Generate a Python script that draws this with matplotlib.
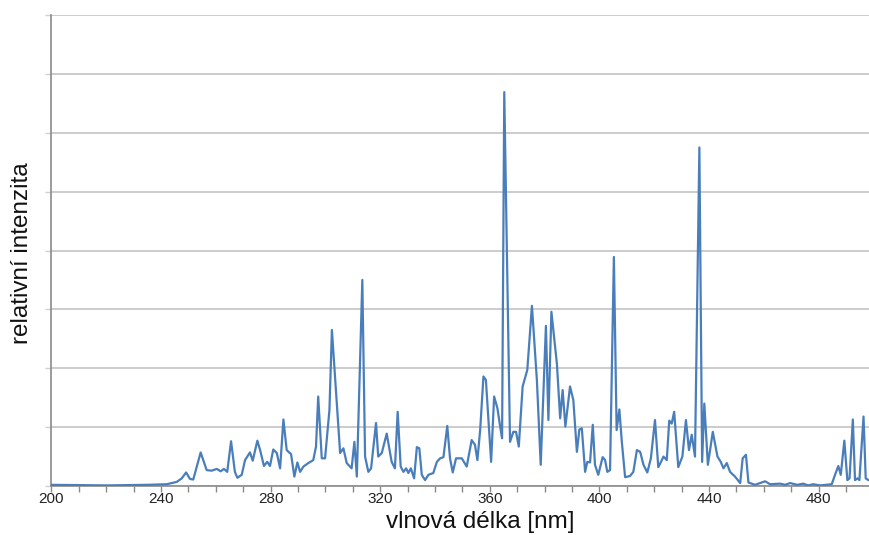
import matplotlib
matplotlib.use("Agg")
import matplotlib.pyplot as plt
from matplotlib.ticker import MultipleLocator, NullFormatter

plt.rcParams['font.family'] = ['Liberation Sans', 'DejaVu Sans']

# emission spectrum (wavelength in nm, relative intensity)
wavelength = [
    200.0, 220.0, 235.0, 242.1, 245.8, 247.6, 249.2, 250.6, 251.8, 254.5,
    256.7, 258.5, 260.4, 261.8, 263.0, 264.2, 265.6, 267.0, 267.9, 269.5,
    270.7, 272.5, 273.5, 275.2, 276.2, 277.6, 278.8, 279.8, 281.0, 282.3,
    283.5, 284.7, 285.9, 287.5, 288.7, 289.8, 290.8, 292.0, 293.8, 295.6,
    296.6, 297.4, 298.7, 299.9, 301.5, 302.4, 304.2, 305.4, 306.6, 307.8,
    309.0, 309.6, 310.6, 311.5, 313.5, 314.5, 315.7, 316.7, 318.5, 319.3,
    320.6, 322.4, 324.2, 325.4, 326.4, 327.5, 328.5, 329.5, 330.3, 331.2,
    332.4, 333.4, 334.3, 335.2, 336.4, 337.6, 339.4, 340.7, 341.9, 343.1,
    344.5, 345.5, 346.5, 347.7, 349.8, 351.6, 353.4, 354.6, 355.5, 356.5,
    357.7, 358.6, 359.9, 360.5, 361.6, 362.8, 363.8, 364.5, 365.3, 367.4,
    368.6, 369.6, 370.6, 372.0, 373.7, 375.4, 377.2, 378.6, 380.5, 381.4,
    382.5, 384.5, 385.7, 386.6, 387.6, 389.3, 390.5, 391.8, 392.7, 393.6,
    394.8, 395.6, 396.6, 397.6, 398.4, 399.6, 401.2, 402.1, 402.9, 403.9,
    405.3, 406.3, 407.3, 408.2, 409.4, 411.2, 412.4, 413.7, 414.9, 416.1,
    417.5, 418.8, 420.3, 421.5, 422.5, 423.4, 424.6, 425.5, 426.4, 427.3,
    428.8, 430.3, 431.6, 432.7, 433.7, 434.9, 436.5, 437.5, 438.3, 439.6,
    441.4, 443.1, 444.3, 445.3, 446.5, 447.7, 449.5, 451.4, 452.3, 453.5,
    454.4, 456.8, 460.5, 462.3, 466.0, 467.8, 469.6, 472.2, 474.4, 476.2,
    478.0, 480.6, 484.8, 486.0, 487.2, 488.1, 489.4, 490.5, 491.3, 492.5,
    493.3, 494.2, 494.9, 496.4, 497.2, 498.2, 499.0,
]
intensity = [
    0.02, 0.01, 0.02, 0.03, 0.07, 0.13, 0.23, 0.12, 0.11, 0.57,
    0.27, 0.26, 0.29, 0.25, 0.29, 0.24, 0.76, 0.24, 0.14, 0.19,
    0.44, 0.57, 0.43, 0.77, 0.61, 0.34, 0.41, 0.34, 0.62, 0.56,
    0.30, 1.13, 0.61, 0.54, 0.16, 0.40, 0.24, 0.33, 0.39, 0.44,
    0.67, 1.52, 0.47, 0.47, 1.29, 2.65, 1.40, 0.56, 0.64, 0.39,
    0.33, 0.30, 0.75, 0.16, 3.50, 0.50, 0.24, 0.30, 1.07, 0.50,
    0.56, 0.89, 0.41, 0.30, 1.26, 0.33, 0.24, 0.30, 0.22, 0.30,
    0.13, 0.66, 0.64, 0.19, 0.10, 0.19, 0.22, 0.41, 0.47, 0.49,
    1.02, 0.47, 0.23, 0.47, 0.47, 0.33, 0.78, 0.70, 0.44, 0.95,
    1.86, 1.80, 0.84, 0.41, 1.52, 1.32, 1.01, 0.81, 6.69, 0.75,
    0.92, 0.92, 0.67, 1.69, 1.97, 3.06, 1.80, 0.36, 2.72, 1.12,
    2.96, 2.08, 1.15, 1.63, 1.01, 1.69, 1.46, 0.58, 0.96, 0.98,
    0.24, 0.41, 0.40, 1.04, 0.36, 0.19, 0.49, 0.44, 0.24, 0.27,
    3.89, 0.95, 1.30, 0.75, 0.15, 0.17, 0.24, 0.61, 0.58, 0.36,
    0.23, 0.47, 1.12, 0.32, 0.41, 0.50, 0.44, 1.11, 1.06, 1.26,
    0.32, 0.50, 1.12, 0.61, 0.87, 0.50, 5.75, 0.41, 1.40, 0.36,
    0.92, 0.50, 0.41, 0.30, 0.39, 0.24, 0.16, 0.05, 0.47, 0.53,
    0.06, 0.02, 0.08, 0.03, 0.04, 0.02, 0.05, 0.02, 0.04, 0.01,
    0.03, 0.01, 0.03, 0.19, 0.34, 0.19, 0.77, 0.10, 0.13, 1.13,
    0.10, 0.13, 0.10, 1.18, 0.13, 0.10, 0.12,
]

fig = plt.figure(figsize=(8.69, 5.35), dpi=100)
ax = fig.add_axes([51.3 / 869, 49 / 535, 1 - 51.3 / 869, 471 / 535])

ax.plot(wavelength, intensity, color='#4a7ebb', linewidth=1.6, zorder=3)

ax.set_xlim(200, 498.4)
ax.set_ylim(0, 8)

ax.xaxis.set_major_locator(MultipleLocator(40))
ax.xaxis.set_minor_locator(MultipleLocator(10))
ax.yaxis.set_major_locator(MultipleLocator(1))
ax.yaxis.set_major_formatter(NullFormatter())

ax.grid(axis='y', color='#c4c4c4', linewidth=1.2, zorder=0)
ax.set_axisbelow(True)

for s in ['top', 'right']:
    ax.spines[s].set_visible(False)
for s in ['left', 'bottom']:
    ax.spines[s].set_color('#8a8a8a')
    ax.spines[s].set_linewidth(1.2)

ax.tick_params(axis='x', which='both', direction='out', length=4, width=1,
               color='#8a8a8a', labelsize=11, labelcolor='#222222', pad=0.5)
ax.tick_params(axis='y', which='both', direction='out', length=4, width=1,
               color='#d0d0d0')

fig.text(480 / 869, 1 - 522 / 535, 'vlnová délka [nm]', fontsize=17.5,
         ha='center', va='center', color='#111111')
fig.text(22 / 869, 1 - 253 / 535, 'relativní intenzita', fontsize=17.5,
         rotation=90, ha='center', va='center', color='#111111')

fig.savefig('out.png', dpi=100)
